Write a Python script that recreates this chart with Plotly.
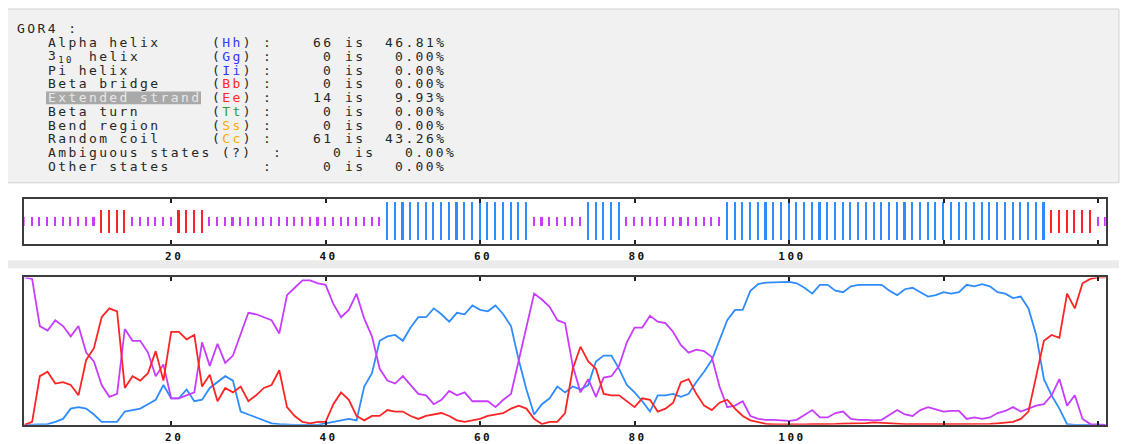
import plotly.graph_objects as go

# page is rendered inside an 8px body margin, so the figure is sized to fit
PAGE_W, PAGE_H = 1129, 444
OFF = 8
W, H = PAGE_W - OFF, PAGE_H - OFF

# ---------------- data ----------------
RESIDUES = list(range(1, 142))
PRED = ("cccccccccc" "eeeecccccc" "eeeecccccc" "cccccccccc" "ccccccchhh"
        "hhhhhhhhhh" "hhhhhhcccc" "ccchhhhhcc" "cccccccccc" "chhhhhhhhh"
        "hhhhhhhhhh" "hhhhhhhhhh" "hhhhhhhhhh" "hhheeeeeec" "c")

PROB_H = [0, 0, 0, 0.005, 0.02, 0.04, 0.11, 0.12, 0.11, 0.07,
          0.02, 0.02, 0.02, 0.09, 0.10, 0.11, 0.14, 0.17, 0.27, 0.18,
          0.18, 0.24, 0.16, 0.17, 0.25, 0.29, 0.33, 0.30, 0.09, 0.07,
          0.05, 0.03, 0.01, 0.005, 0, 0, 0, 0, 0, 0.01,
          0.02, 0.03, 0.04, 0.03, 0.26, 0.35, 0.57, 0.60, 0.61, 0.57,
          0.66, 0.73, 0.73, 0.79, 0.75, 0.70, 0.76, 0.75, 0.81, 0.78,
          0.77, 0.81, 0.75, 0.67, 0.44, 0.24, 0.07, 0.14, 0.18, 0.26,
          0.22, 0.26, 0.24, 0.27, 0.43, 0.47, 0.47, 0.38, 0.27, 0.22,
          0.16, 0.09, 0.20, 0.20, 0.21, 0.19, 0.21, 0.29, 0.36, 0.44,
          0.57, 0.71, 0.78, 0.78, 0.91, 0.955, 0.965, 0.966, 0.97, 0.97,
          0.96, 0.93, 0.89, 0.95, 0.95, 0.91, 0.90, 0.94, 0.95, 0.95,
          0.95, 0.95, 0.91, 0.88, 0.92, 0.93, 0.90, 0.87, 0.88, 0.90,
          0.89, 0.90, 0.95, 0.94, 0.955, 0.94, 0.90, 0.89, 0.86, 0.87,
          0.79, 0.61, 0.31, 0.20, 0.11, 0.005, 0, 0, 0, 0,
          0]

PROB_E = [0, 0.02, 0.33, 0.36, 0.28, 0.29, 0.27, 0.20, 0.44, 0.52,
          0.73, 0.79, 0.77, 0.25, 0.33, 0.30, 0.35, 0.50, 0.30, 0.63,
          0.63, 0.58, 0.61, 0.26, 0.34, 0.16, 0.25, 0.22, 0.26, 0.16,
          0.20, 0.25, 0.27, 0.37, 0.12, 0.06, 0.02, 0.01, 0.02, 0.02,
          0.14, 0.22, 0.17, 0.06, 0.03, 0.06, 0.06, 0.10, 0.09, 0.09,
          0.06, 0.04, 0.06, 0.07, 0.08, 0.06, 0.03, 0.02, 0.03, 0.04,
          0.06, 0.07, 0.08, 0.11, 0.13, 0.11, 0.04, 0.005, 0.02, 0.02,
          0.08, 0.38, 0.53, 0.43, 0.38, 0.21, 0.20, 0.20, 0.16, 0.12,
          0.18, 0.17, 0.09, 0.11, 0.15, 0.29, 0.31, 0.21, 0.13, 0.10,
          0.15, 0.17, 0.11, 0.06, 0.03, 0.016, 0.007, 0.003, 0.002, 0.002,
          0.002, 0.003, 0.004, 0.003, 0.005, 0.006, 0.008, 0.008, 0.01, 0.012,
          0.016, 0.012, 0.008, 0.006, 0.005, 0.004, 0.004, 0.005, 0.005, 0.005,
          0.006, 0.004, 0.003, 0.003, 0.004, 0.006, 0.01, 0.016, 0.02, 0.04,
          0.09, 0.33, 0.57, 0.61, 0.59, 0.89, 0.79, 0.96, 0.99, 1.0,
          1.0]

PROB_C = [1.0, 0.99, 0.67, 0.64, 0.71, 0.67, 0.60, 0.67, 0.49, 0.43,
          0.27, 0.19, 0.21, 0.65, 0.57, 0.57, 0.49, 0.33, 0.41, 0.18,
          0.18, 0.20, 0.22, 0.56, 0.40, 0.55, 0.42, 0.47, 0.62, 0.76,
          0.75, 0.73, 0.71, 0.62, 0.88, 0.93, 0.98, 0.98, 0.96, 0.95,
          0.82, 0.73, 0.78, 0.89, 0.72, 0.60, 0.38, 0.30, 0.28, 0.33,
          0.27, 0.21, 0.20, 0.14, 0.17, 0.23, 0.20, 0.22, 0.16, 0.16,
          0.16, 0.12, 0.17, 0.21, 0.44, 0.67, 0.89, 0.85, 0.80, 0.71,
          0.69, 0.40, 0.22, 0.31, 0.19, 0.32, 0.33, 0.40, 0.56, 0.66,
          0.66, 0.74, 0.70, 0.69, 0.63, 0.54, 0.49, 0.51, 0.50, 0.46,
          0.26, 0.12, 0.13, 0.16, 0.06, 0.04, 0.034, 0.034, 0.03, 0.027,
          0.034, 0.07, 0.10, 0.05, 0.05, 0.08, 0.09, 0.04, 0.034, 0.034,
          0.03, 0.034, 0.07, 0.10, 0.07, 0.06, 0.10, 0.12, 0.105, 0.09,
          0.094, 0.094, 0.04, 0.05, 0.04, 0.05, 0.08, 0.094, 0.12, 0.09,
          0.11, 0.13, 0.14, 0.20, 0.31, 0.13, 0.20, 0.04, 0.005, 0,
          0]

TICK_VALS = [20, 40, 60, 80, 100]
TICK_TEXT = ["20", "40", "60", "80", "100"]
UNLABELLED_TICKS = [120, 140]

SUMMARY_TITLE = "GOR4 :"
ROW_LABELS = ["Alpha helix", "3<sub>10</sub>", "Pi helix", "Beta bridge",
              "Extended strand", "Beta turn", "Bend region", "Random coil",
              "Ambiguous states (?)", "Other states"]
ROW_CODES = ["Hh", "Gg", "Ii", "Bb", "Ee", "Tt", "Ss", "Cc", "", ""]
ROW_COUNTS = [66, 0, 0, 0, 14, 0, 0, 61, 0, 0]
ROW_PCTS = ["46.81%", "0.00%", "0.00%", "0.00%", "9.93%", "0.00%",
            "0.00%", "43.26%", "0.00%", "0.00%"]

# ---------------- styles ----------------
COL_H = "#2f8cff"
COL_E = "#ff2424"
COL_C = "#c83cff"
CODE_COLORS = {"Hh": "#3535ff", "Gg": "#3535ff", "Ii": "#3535ff",
               "Bb": "#ff2a2a", "Ee": "#ff2a2a", "Tt": "#2f9f2f",
               "Ss": "#ffaa00", "Cc": "#ffaa00"}
STATE_COLOR = {"h": COL_H, "e": COL_E, "c": COL_C}
STATE_HALF = {"h": 0.85, "e": 0.52, "c": 0.2}


def px(x):
    return (x - OFF) / W


def py(y):
    return 1 - (y - OFF) / H


X0, X1 = 24.4, 1105.7
TRACK_T, TRACK_B = 200.7, 245.4
PLOT_T, PLOT_B = 279.3, 427.7

fig = go.Figure()

# probability curves
for name, vals, col in [("helix", PROB_H, COL_H), ("coil", PROB_C, COL_C), ("strand", PROB_E, COL_E)]:
    fig.add_trace(go.Scatter(x=RESIDUES, y=vals, mode="lines", name=name,
                             line=dict(color=col, width=1.8), xaxis="x", yaxis="y",
                             showlegend=False, hoverinfo="skip"))

# prediction track bars
for st in ["c", "e", "h"]:
    xs = [r for r, s in zip(RESIDUES, PRED) if s == st]
    h = STATE_HALF[st]
    fig.add_trace(go.Bar(x=xs, y=[2 * h] * len(xs), base=[-h] * len(xs), width=0.27,
                         marker=dict(color=STATE_COLOR[st], line=dict(width=0)),
                         xaxis="x2", yaxis="y2", showlegend=False, hoverinfo="skip"))

mono = "DejaVu Sans Mono"
axis_common = dict(showline=True, mirror="ticks", linecolor="#3c3c3c", linewidth=1.5,
                   ticks="inside", ticklen=4, tickwidth=1.5, tickcolor="#222",
                   showgrid=False, zeroline=False)
tick_txt = ['<span style="letter-spacing:2.5px">%s</span>' % t for t in TICK_TEXT]
xa = dict(axis_common, range=[1, 141], domain=[px(X0), px(X1)], tickvals=TICK_VALS,
          ticktext=tick_txt, ticklabelstandoff=1, ticklabelshift=3,
          tickfont=dict(family=mono, size=11, color="#111", weight="bold"),
          minor=dict(tickmode="array", tickvals=UNLABELLED_TICKS, ticks="inside",
                     ticklen=4, tickwidth=1.5, tickcolor="#222", showgrid=False))
ya_common = dict(showline=True, mirror=True, linecolor="#3c3c3c", linewidth=1.5,
                 ticks="", showticklabels=False, showgrid=False, zeroline=False)

shapes = [
    dict(type="rect", xref="paper", yref="paper", x0=px(7), x1=px(1119), y0=py(9), y1=py(184),
         fillcolor="#f1f1f1", line=dict(color="#d2d2d2", width=1), layer="below"),
    dict(type="rect", xref="paper", yref="paper", x0=px(7), x1=px(1119), y0=py(262), y1=py(270),
         fillcolor="#ebebeb", line=dict(width=0), layer="below"),
    dict(type="rect", xref="paper", yref="paper", x0=px(46), x1=px(201), y0=py(92), y1=py(105),
         fillcolor="#a9a9a9", line=dict(width=0), layer="below"),
]

CW = 10.25
TX0 = 16
ROW_Y0 = 42.7
ROW_DY = 13.87
LS = "letter-spacing:2.4px"
anns = []


def txt(col, y, s, color="#262626", anchor="left"):
    anns.append(dict(x=px(TX0 + col * CW), y=py(y), xref="paper", yref="paper",
                     text='<span style="%s">%s</span>' % (LS, s), showarrow=False,
                     xanchor=anchor, yanchor="middle", borderpad=0,
                     font=dict(family=mono, size=13, color=color)))


txt(0, 29, SUMMARY_TITLE)
for i, lab in enumerate(ROW_LABELS):
    y = ROW_Y0 + i * ROW_DY
    shift = 1 if lab.startswith("Ambiguous") else 0
    if lab.startswith("3<sub>"):
        txt(3, y, lab)
        txt(7, y, "helix")
    elif lab.startswith("Extended"):
        txt(3, y, lab, color="#e8e8e8")
    else:
        txt(3, y, lab)
    code = ROW_CODES[i]
    if code:
        txt(19, y, '(<span style="fill:%s">%s</span>)' % (CODE_COLORS[code], code))
    txt(24 + shift, y, ":")
    txt(31 + shift, y, str(ROW_COUNTS[i]), anchor="right")
    txt(32 + shift, y, "is")
    txt(42 + shift, y, ROW_PCTS[i], anchor="right")

fig.update_layout(
    width=W, height=H, margin=dict(l=0, r=0, t=0, b=0),
    paper_bgcolor="white", plot_bgcolor="white",
    barmode="overlay", bargap=0,
    xaxis=dict(xa, anchor="y"),
    yaxis=dict(ya_common, range=[0, 1], domain=[py(PLOT_B), py(PLOT_T)], anchor="x"),
    xaxis2=dict(xa, anchor="y2"),
    yaxis2=dict(ya_common, range=[-1, 1], domain=[py(TRACK_B), py(TRACK_T)], anchor="x2"),
    shapes=shapes, annotations=anns,
)

fig.write_html("out.html")
